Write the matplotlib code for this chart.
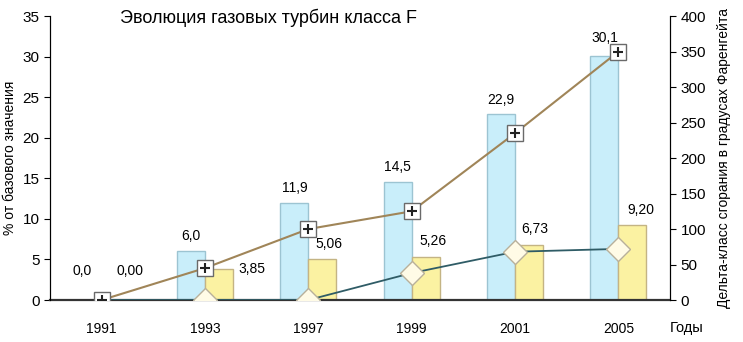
import matplotlib.pyplot as plt
import numpy as np

plt.rcParams['font.family'] = ['Liberation Sans', 'DejaVu Sans']

years = ["1991", "1993", "1997", "1999", "2001", "2005"]
pct_blue = [0.0, 6.0, 11.9, 14.5, 22.9, 30.1]
pct_yellow = [0.00, 3.85, 5.06, 5.26, 6.73, 9.20]
blue_labels = ["0,0", "6,0", "11,9", "14,5", "22,9", "30,1"]
yellow_labels = ["0,00", "3,85", "5,06", "5,26", "6,73", "9,20"]
delta_plus = [0, 45, 100, 125, 235, 350]
delta_diamond = [0, 0, 0, 38, 68, 72]

x = np.arange(len(years))
w = 0.27

fig = plt.figure(figsize=(7.43, 3.42), dpi=100)
ax = fig.add_axes([0.0673, 0.1228, 0.8345, 0.830])
ax2 = ax.twinx()

ax.bar(x - w / 2, pct_blue, w, color="#c9eefa", edgecolor="#9cc4d2", linewidth=1, zorder=2)
ax.bar(x + w / 2, pct_yellow, w, color="#fbf2a2", edgecolor="#c4b484", linewidth=1, zorder=2)

# value labels
boff = [(-4, 21), (0, 11), (0, 11), (0, 11), (0, 10), (0, 13)]
for i in range(len(years)):
    ax.annotate(blue_labels[i], (x[i] - w / 2, pct_blue[i]), xytext=boff[i],
                textcoords="offset points", ha="center", va="center", fontsize=10)
yoff = [(10, 21), (24, 0), (5, 11), (5, 12), (4, 12), (6, 11)]
for i in range(len(years)):
    ax.annotate(yellow_labels[i], (x[i] + w / 2, pct_yellow[i]), xytext=yoff[i],
                textcoords="offset points", ha="center", va="center", fontsize=10)

ax.set_xlim(-0.5, 5.5)
ax.set_ylim(0, 35)
ax.set_yticks(range(0, 36, 5))
ax.set_xticks(x)
ax.set_xticklabels(years, fontsize=10)
ax.tick_params(axis="x", length=0, pad=16)
ax.tick_params(axis="y", labelsize=11, length=4)
ax.spines["top"].set_visible(False)
ax.spines["bottom"].set_linewidth(1.6)
ax.spines["bottom"].set_color("#333333")
ax.set_ylabel("% от базового значения", fontsize=10, labelpad=4)

ax2.plot(x, delta_diamond, color="#2f5c66", lw=1.3, zorder=3)
ax2.plot(x[1:], delta_diamond[1:], ls="none", marker="D", ms=12, mfc="#fffbe6",
         mec="#b8b09a", mew=1, zorder=4)
ax2.plot(x, delta_plus, color="#a08558", lw=1.5, marker="s", ms=11, mfc="white",
         mec="#6a6a6a", mew=1, zorder=5)
ax2.plot(x, delta_plus, ls="none", marker="+", ms=7, mew=1.5, color="#222222", zorder=6)
ax2.set_ylim(0, 400)
ax2.set_yticks(range(0, 401, 50))
ax2.tick_params(axis="y", labelsize=11, length=4)
ax2.spines["top"].set_visible(False)
ax2.spines["bottom"].set_visible(False)
ax2.set_ylabel("Дельта-класс сгорания в градусах Фаренгейта", fontsize=10, labelpad=8)

ax.text(5.5, -0.1, "Годы", transform=ax.get_xaxis_transform(), fontsize=10.5,
        ha="left", va="center")
fig.text(0.162, 0.948, "Эволюция газовых турбин класса F", fontsize=13, va="center")

for a in (ax, ax2):
    a.set_facecolor("none")
ax.set_zorder(ax2.get_zorder() - 1)
ax2.patch.set_visible(False)

fig.savefig("out.png", dpi=100)
